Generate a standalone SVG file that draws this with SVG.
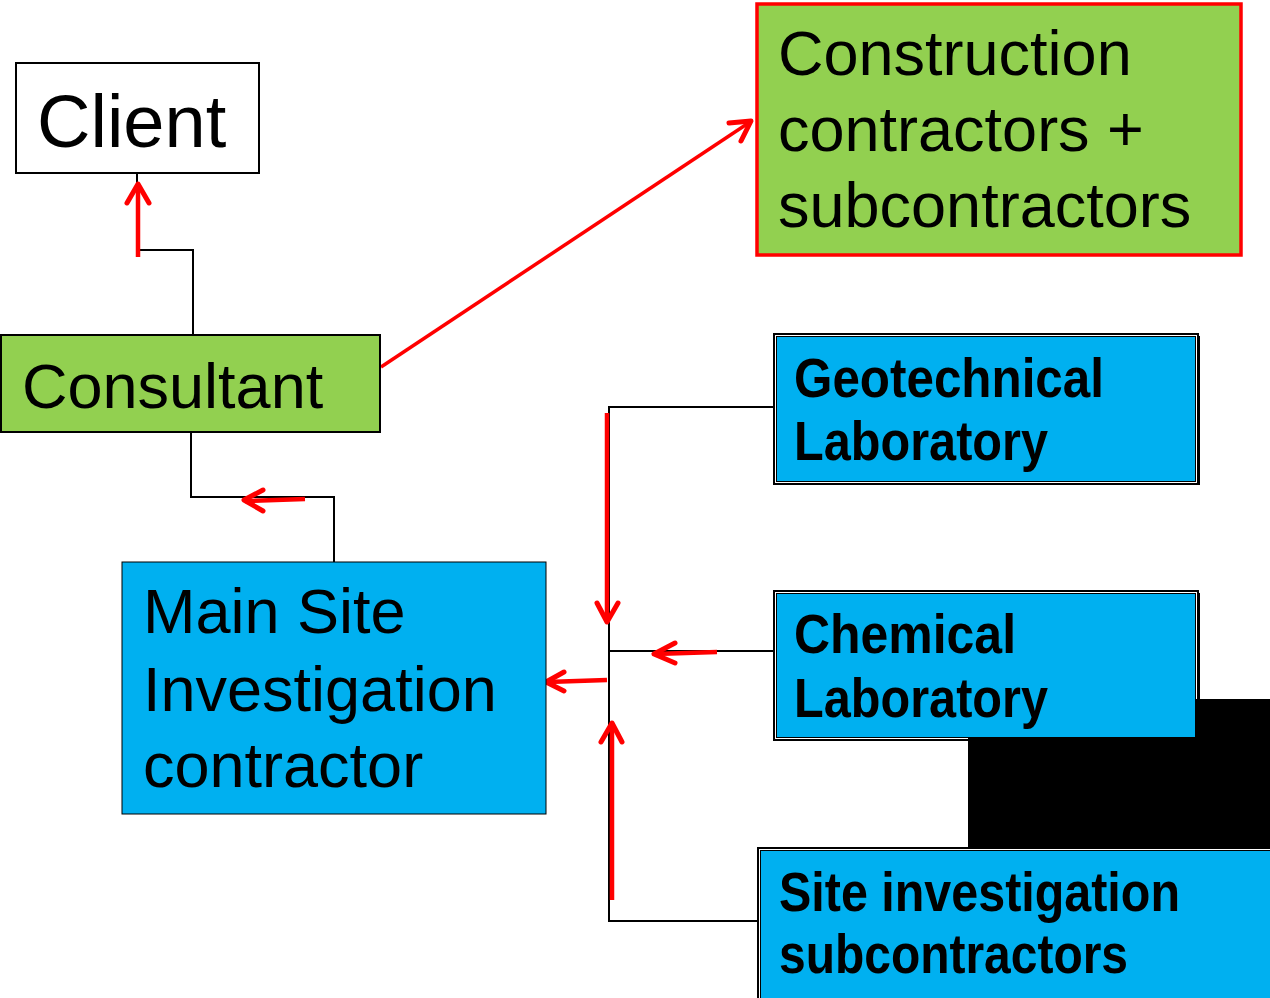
<svg xmlns="http://www.w3.org/2000/svg" width="1270" height="998" viewBox="0 0 1270 998">
<style>
.t{font-family:"Liberation Sans",Arial,sans-serif;fill:#000}
.big{font-size:63px}
.b{font-family:"Liberation Sans",Arial,sans-serif;font-weight:bold;font-size:55px;fill:#000}
.k{fill:none;stroke:#000;stroke-width:2}
.r{fill:none;stroke:#FF0000;stroke-width:4.5}
.r3{fill:none;stroke:#FF0000;stroke-width:3.5}
.h{fill:none;stroke:#FF0000;stroke-width:5;stroke-linecap:round;stroke-linejoin:round}
.green{fill:#92D050;stroke:#000;stroke-width:2}
.blue{fill:#00B0F0;stroke:#000;stroke-width:1}
.sh{fill:none;stroke:#000;stroke-width:2}
</style>
<rect x="0" y="0" width="1270" height="998" fill="#fff"/>

<rect x="968" y="699" width="302" height="150" fill="#000"/>

<g id="connectors">
<path class="k" d="M137,173 V250 H193 V335"/>
<path class="k" d="M191,432 V497 H334 V562"/>
<path class="k" d="M773,407 H609 V921 H758"/>
<path class="k" d="M609,651 H773"/>
<path class="r" d="M138,257 V185"/>
<path class="h" d="M127,203 L138,184 L149,203"/>
<path class="r" d="M305,499 L245,501"/>
<path class="h" d="M263,490 L244,500 L263,511"/>
<path class="r3" d="M381,367 L750,122"/>
<path class="h" d="M729,123 L751,121 L741,141" stroke-width="4.5"/>
<path class="r" d="M607,413 V621"/>
<path class="h" d="M597,603 L607,622 L618,603"/>
<path class="r" d="M717,652 L655,654"/>
<path class="h" d="M675,643 L654,654 L675,663"/>
<path class="r" d="M607,680 L547,682"/>
<path class="h" d="M564,672 L546,682 L564,691"/>
<path class="r" d="M612,900 V724"/>
<path class="h" d="M601,742 L612,723 L622,742"/>
</g>

<g id="client">
<rect x="16" y="63" width="243" height="110" fill="#fff" stroke="#000" stroke-width="2"/>
<text class="t" x="37" y="147" font-size="74">Client</text>
</g>

<g id="consultant">
<rect class="green" x="1" y="335" width="379" height="97"/>
<text class="t big" x="22" y="408">Consultant</text>
</g>

<g id="construction">
<rect x="757" y="4" width="484" height="251" fill="#92D050" stroke="#FF0000" stroke-width="3.5"/>
<text class="t big" x="778" y="75">Construction</text>
<text class="t big" x="778" y="151">contractors +</text>
<text class="t big" x="778" y="227">subcontractors</text>
</g>

<g id="main">
<rect class="blue" x="122" y="562" width="424" height="252" stroke-width="2"/>
<text class="t big" x="143" y="633">Main Site</text>
<text class="t big" x="143" y="711">Investigation</text>
<text class="t big" x="143" y="787">contractor</text>
</g>

<g id="geotechnical">
<rect class="sh" x="774" y="334" width="424" height="150"/>
<rect class="blue" x="776.5" y="336.5" width="419" height="145"/>
<path d="M776,484 H1199 V336" fill="none" stroke="#000" stroke-width="2"/>
<text class="b" x="794" y="397" textLength="310" lengthAdjust="spacingAndGlyphs">Geotechnical</text>
<text class="b" x="794" y="460" textLength="254" lengthAdjust="spacingAndGlyphs">Laboratory</text>
</g>

<g id="chemical">
<rect class="sh" x="774" y="591" width="424" height="149"/>
<rect class="blue" x="776.5" y="593.5" width="419" height="144"/>
<path d="M776,740 H1199 V593" fill="none" stroke="#000" stroke-width="2"/>
<text class="b" x="794" y="653" textLength="222" lengthAdjust="spacingAndGlyphs">Chemical</text>
<text class="b" x="794" y="717" textLength="254" lengthAdjust="spacingAndGlyphs">Laboratory</text>
</g>

<g id="site-subcontractors">
<rect class="sh" x="758" y="848" width="520" height="160"/>
<rect class="blue" x="760.5" y="850.5" width="515" height="155"/>
<text class="b" x="779" y="911" textLength="401" lengthAdjust="spacingAndGlyphs">Site investigation</text>
<text class="b" x="779" y="973" textLength="349" lengthAdjust="spacingAndGlyphs">subcontractors</text>
</g>
</svg>
